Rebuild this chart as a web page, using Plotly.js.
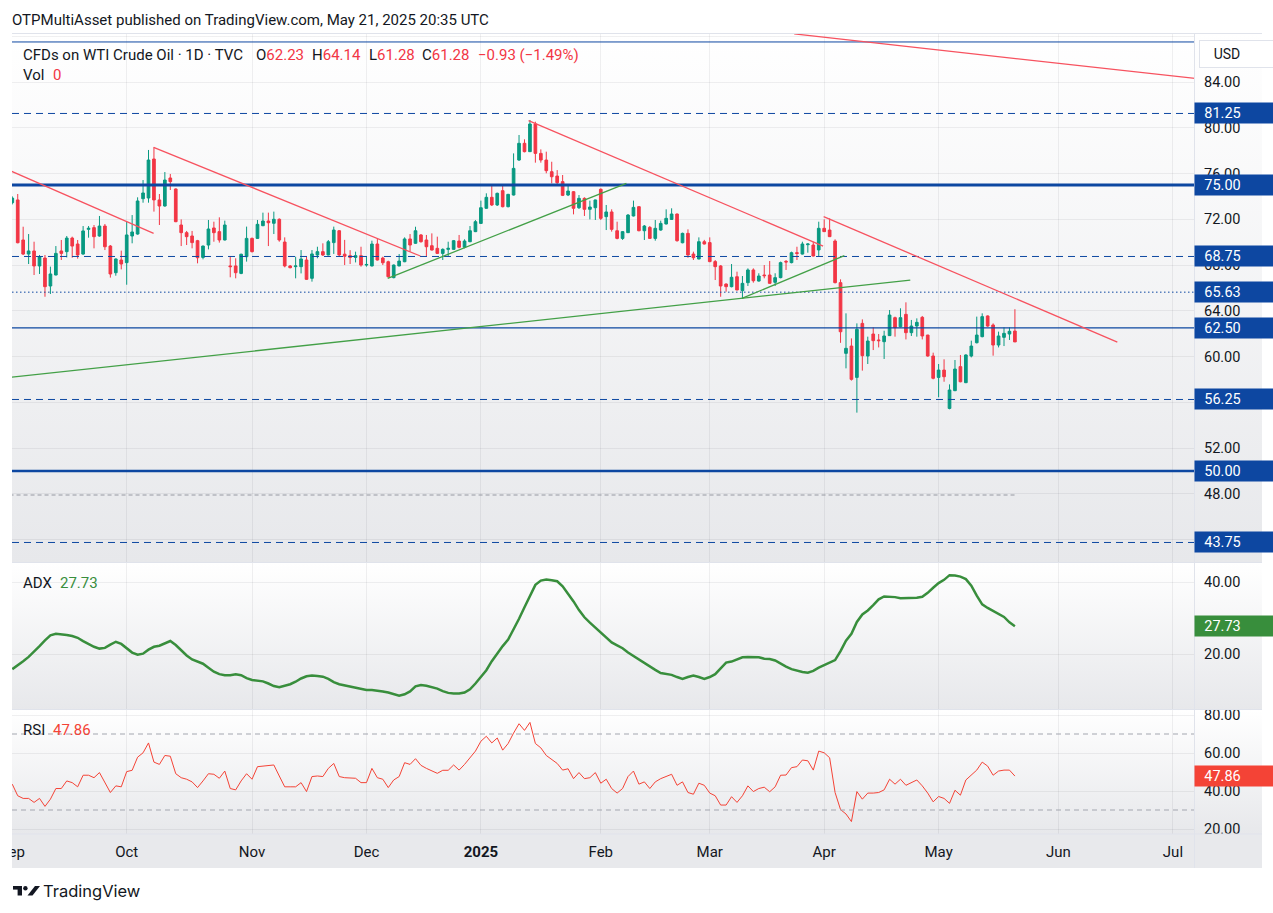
<!DOCTYPE html>
<html><head><meta charset="utf-8">
<script src="https://cdn.plot.ly/plotly-3.0.1.min.js"></script>
<style>
html,body{margin:0;padding:0;background:#fff;}
#wrap{position:relative;width:1273px;height:913px;overflow:hidden;}
.bg{position:absolute;left:12px;width:1250px;}
#chart{position:absolute;left:0;top:0;width:1273px;height:913px;}
</style></head>
<body><div id="wrap">
<div class="bg" style="top:33px;height:530px;background:linear-gradient(#ffffff,#e7e8eb)"></div>
<div class="bg" style="top:563px;height:147px;background:linear-gradient(#ffffff,#e7e8eb)"></div>
<div class="bg" style="top:710px;height:124px;background:linear-gradient(#ffffff,#e7e8eb)"></div>
<div class="bg" style="top:834px;height:34px;background:#e8e9ec"></div>
<div id="chart"></div></div>
<script>
// ---- DATA (daily bars, first bar = Sep 2 2024, last = May 21 2025) ----
const open = [
73.45,
73.69,70.19,68.96,69.23,67.92,68.61,66.17,67.13,69.23,69.17,
70.36,69.84,68.96,71.12,71.27,70.54,71.41,69.66,67.33,68.44,
68.21,70.54,70.71,73.8,73.86,77.27,73.69,73.16,75.61,74.65,
71.5,70.83,70.54,70.13,68.67,69.75,71.24,70.92,70.19,67.92,
67.92,67.27,68.73,70.33,70.33,71.44,71.85,71.65,72.0,70.01,
67.92,67.86,67.86,68.44,66.84,68.88,69.17,68.88,69.96,71.0,
68.95,68.82,68.67,68.82,68.0,67.92,69.84,68.61,68.29,66.9,
67.92,68.29,70.28,69.9,70.63,70.19,69.69,69.46,69.02,69.37,
69.37,70.1,69.55,70.04,70.92,71.64,72.96,73.92,73.25,74.5,
73.1,74.12,77.18,78.64,77.91,80.33,77.76,77.18,76.16,75.78,
75.29,74.12,74.41,73.01,73.83,72.87,73.01,74.62,72.23,72.64,
71.0,70.33,70.83,72.29,73.1,71.0,71.29,70.33,71.06,71.59,
71.99,72.46,69.95,70.77,68.96,68.53,70.04,69.96,68.3,67.92,
66.34,66.11,66.98,65.76,66.46,67.57,66.6,67.13,67.13,66.49,
66.9,68.32,68.21,69.08,68.96,69.78,69.75,69.32,71.21,71.06,
70.1,66.46,60.28,60.92,58.18,62.9,60.05,61.97,61.45,61.3,
61.83,63.4,62.61,63.69,62.09,62.67,63.43,61.88,60.05,58.18,
58.82,55.47,57.02,59.12,57.72,60.05,61.21,61.74,63.55,62.76,
61.01,61.68,61.97,62.23];
const high = [
74.0,
74.21,71.35,70.71,70.04,68.88,68.88,67.86,69.66,70.19,70.54,
70.48,70.19,71.41,71.41,71.5,72.29,71.59,69.75,68.58,69.26,
71.79,72.37,73.92,75.43,78.06,78.29,74.21,76.13,75.96,74.7,
71.99,70.98,70.98,70.2,69.7,71.94,71.79,72.17,71.88,68.79,
68.59,69.0,71.36,70.4,71.94,72.58,72.58,72.67,72.08,70.42,
68.0,68.73,69.31,68.73,69.31,69.6,69.9,70.19,71.36,71.06,
70.2,69.3,69.17,69.6,68.7,70.13,70.33,68.73,68.38,68.05,
68.96,70.42,70.71,71.35,70.71,70.63,70.77,70.48,69.46,70.04,
70.19,70.63,70.25,71.41,71.93,73.63,74.27,74.91,74.33,75.08,
74.22,77.76,79.37,78.99,80.68,80.53,78.11,77.91,77.03,76.3,
75.87,75.08,74.47,74.12,73.92,73.63,73.72,74.7,73.25,72.87,
71.79,70.96,72.46,73.63,73.15,71.5,71.41,71.94,71.88,72.87,
72.96,72.5,70.83,71.12,69.17,70.42,70.2,70.42,68.44,68.0,
66.4,68.09,67.42,67.04,67.71,67.71,67.28,68.0,68.35,67.28,
68.3,68.44,69.17,69.6,70.04,69.9,70.04,71.79,71.99,72.08,
70.25,66.75,63.78,61.59,62.9,63.25,61.74,62.55,61.97,62.26,
64.07,63.49,64.22,64.74,63.2,63.34,63.55,61.9,60.34,59.35,
59.76,57.57,59.7,60.14,60.2,61.39,63.49,63.78,63.6,62.9,
62.18,62.55,62.55,64.14];
const low = [
73.3,
69.9,68.88,68.09,67.13,67.22,65.23,65.47,67.1,68.44,68.67,
68.64,68.56,68.9,70.39,69.46,70.48,69.31,66.9,67.07,67.62,
66.28,69.9,70.65,73.45,73.45,72.67,71.5,73.1,74.56,71.75,
69.66,69.75,69.46,68.15,68.5,69.37,70.04,69.96,70.15,66.93,
66.84,67.2,68.3,69.1,70.3,71.4,69.66,70.71,70.04,67.8,
67.71,66.84,67.27,66.7,66.55,68.59,68.79,68.85,68.97,68.73,
68.0,68.09,68.23,67.86,67.86,67.88,68.4,68.0,66.9,66.84,
67.9,68.25,69.17,69.85,69.96,68.79,69.28,68.96,68.44,68.73,
69.33,69.46,69.46,70.0,70.88,71.59,72.92,73.16,73.16,73.04,
73.04,74.08,77.1,77.85,77.88,76.95,76.95,76.02,75.14,75.08,
74.03,74.03,72.43,72.9,72.29,71.99,71.94,71.94,71.06,70.92,
70.25,70.2,70.8,72.25,70.95,70.19,70.3,70.13,71.0,71.55,
71.94,70.04,69.9,68.64,68.44,68.5,69.8,68.25,66.69,65.23,
65.67,66.05,65.8,65.09,66.17,66.46,66.55,66.84,66.38,66.17,
66.84,67.57,68.15,68.44,68.92,69.08,68.75,68.79,70.9,70.45,
66.4,61.2,58.97,57.9,55.1,58.77,59.35,60.57,60.8,59.79,
61.8,61.74,62.55,61.5,61.8,61.74,61.5,59.99,58.01,56.44,
57.8,55.39,56.98,57.75,57.68,59.93,61.15,61.68,62.6,60.08,
60.8,60.92,61.45,61.28];
const close = [
73.85,
69.95,68.96,69.23,67.92,68.70,66.11,67.22,69.02,69.02,70.36,
69.66,68.88,70.98,71.21,70.48,71.41,69.6,67.22,68.53,68.09,
70.63,70.89,73.6,74.3,77.18,73.69,73.16,75.43,75.29,71.79,
70.83,70.48,69.96,68.64,69.66,71.15,70.83,70.19,71.5,67.86,
67.33,68.94,70.33,69.17,71.56,71.85,71.7,72.0,70.19,67.92,
67.77,67.92,68.53,66.75,68.97,69.17,68.88,70.04,71.06,68.88,
68.77,68.67,68.82,68.0,68.05,69.84,68.44,68.2,66.98,68.0,
68.35,70.28,69.75,71.0,70.04,69.6,69.31,69.02,69.37,69.46,
70.13,69.55,70.1,71.0,71.79,73.01,73.92,73.25,74.27,73.1,
74.18,76.45,78.64,77.91,80.33,77.76,77.18,76.25,75.72,75.2,
74.09,74.47,72.96,73.83,72.87,73.07,73.69,72.08,72.64,71.12,
70.33,70.92,72.37,73.04,71.0,71.41,70.33,71.21,71.64,72.08,
72.46,70.13,70.77,68.88,68.64,70.04,69.84,68.3,67.86,66.17,
66.11,66.93,65.82,66.4,67.57,66.63,67.04,67.07,66.4,66.9,
68.21,68.27,69.08,69.02,69.84,69.84,68.79,71.21,70.92,70.48,
66.46,62.17,60.72,58.01,62.38,60.08,61.36,61.39,61.39,61.8,
63.63,62.53,63.4,62.09,62.67,62.99,61.8,60.05,58.1,58.82,
58.24,57.08,58.91,57.8,60.14,60.92,61.88,63.49,62.67,61.01,
61.8,62.03,62.21,61.28];
const adx = [
15.8,
16.8,18.0,19.2,20.6,22.2,23.8,25.2,25.6,25.5,25.3,
25.0,24.5,23.6,22.7,22.0,21.5,21.7,22.6,23.4,22.8,
21.6,20.4,19.8,20.1,21.2,22.0,22.3,23.0,23.6,22.5,
21.1,19.6,18.5,17.9,17.3,16.2,15.1,14.4,14.1,14.1,
14.4,14.1,13.3,12.8,12.7,12.4,11.8,11.1,10.8,11.2,
11.6,12.3,13.2,13.8,14.0,13.9,13.7,13.1,12.2,11.6,
11.3,11.1,10.7,10.3,10.0,10.0,9.9,9.6,9.3,8.8,
8.4,8.8,9.6,11.0,11.4,11.2,10.9,10.4,9.7,9.2,
9.0,9.0,9.3,10.2,11.8,13.8,15.5,18.0,20.2,22.2,
24.0,26.8,29.8,33.0,36.3,39.2,40.4,40.7,40.5,40.2,
38.8,36.8,34.6,32.2,30.2,28.7,27.3,25.9,24.6,23.2,
22.4,21.6,20.4,19.4,18.5,17.4,16.5,15.6,14.7,14.4,
14.2,13.6,13.1,13.6,14.0,13.6,13.1,13.6,14.4,16.0,
17.6,17.9,18.6,19.1,19.2,19.2,19.1,18.7,18.6,18.2,
17.3,16.5,15.8,15.3,15.0,14.8,15.3,16.2,16.9,17.5,
18.3,20.8,23.7,25.6,28.9,31.0,32.1,33.6,35.2,36.0,
36.0,35.8,35.5,35.5,35.5,35.6,35.9,37.0,38.4,39.7,
40.6,41.9,41.8,41.5,40.8,39.0,36.2,33.8,32.8,32.0,
31.2,30.3,28.8,27.73];
const rsi = [
43.6,
37.5,36.1,36.1,34.0,36.1,31.9,35.7,41.3,41.3,45.3,
44.4,42.2,48.3,48.3,47.0,49.7,44.8,39.2,42.7,42.2,
50.2,50.9,57.8,60.1,65.3,55.2,54.0,58.7,58.3,49.1,
47.0,46.2,44.8,41.8,45.3,49.1,48.8,46.7,50.5,41.3,
40.6,45.3,49.1,46.2,52.8,53.1,53.1,53.7,47.9,42.2,
42.2,42.2,44.4,39.7,47.6,47.9,47.6,51.9,54.5,47.6,
47.0,46.7,46.7,44.4,44.4,51.9,47.0,46.2,41.8,45.8,
47.6,54.9,54.0,57.0,53.5,51.9,50.5,49.3,50.9,50.9,
53.7,51.0,54.0,57.5,61.0,66.2,68.8,65.3,67.9,61.5,
65.0,70.5,75.4,71.9,76.1,65.0,62.7,58.7,56.6,54.5,
51.0,51.7,46.5,49.7,46.5,47.0,49.7,44.1,46.2,41.3,
38.9,41.3,47.6,50.5,43.6,44.8,41.3,44.8,46.5,47.6,
48.8,43.0,44.8,39.2,38.3,44.1,43.0,38.9,37.5,32.6,
32.6,37.0,34.0,37.5,42.7,39.7,41.3,42.0,39.6,42.2,
48.3,48.4,52.3,52.8,56.3,55.9,51.0,61.0,60.1,57.5,
39.2,30.2,27.9,23.9,39.7,35.7,38.9,38.9,39.2,40.6,
46.2,43.6,46.2,43.0,44.4,45.8,42.7,38.9,34.3,37.1,
36.1,33.5,40.4,37.8,45.8,48.3,51.0,55.2,53.1,48.3,
50.5,51.0,51.0,47.86];
// month start bar indices and labels
const monthIdx = [-1,20,43,64,85,107,127,148,169,191,212];
const monthLabels = ['Sep','Oct','Nov','Dec','<b>2025</b>','Feb','Mar','Apr','May','Jun','Jul'];
// horizontal levels drawn on the chart
const levels = [87.5,81.25,75,68.75,65.63,62.5,56.25,50,43.75];
const labelledLevels = [81.25,75,68.75,65.63,62.5,56.25,50,43.75];
const grayLevel = 47.9;
// trend lines [x0, y0, x1, y1] in bar index / price
const redTrends = [[-1.5,76.27,24.94,70.77],[24.94,78.29,73.9,68.79],[93.75,80.62,147.8,69.66],[147.9,72.23,201.8,61.27],[142.5,88.2,216.1,84.31]];
const greenTrends = [[67.9,66.84,111.7,75.14],[-1.5,58.18,163.8,66.68],[132.9,65.09,151.7,68.82]];
const priceTicks = [44,48,52,56,60,64,68,72,76,80,84,88];
const hiddenPriceTicks = [44,56,88];

// ---- STYLE ----
const FONT = 'Roboto, Arial, sans-serif';
const INK = '#131722', RED = '#f23645', TEAL = '#089981', NAVY = '#0d47a1';
const GRID = 'rgba(42,46,57,0.07)', SEP = '#e0e3eb';
const Lpx = 12, Rpx = 1195, Tpx = 33, Bpx = 834;
const px = x => (x - Lpx) / (Rpx - Lpx);
const py = y => (Bpx - y) / (Bpx - Tpx);

const xs = open.map((_, k) => k - 1);
const last = xs.length - 1;

const traces = [
  {type:'candlestick', x:xs, open, high, low, close, xaxis:'x', yaxis:'y',
   increasing:{line:{color:TEAL,width:1}, fillcolor:TEAL},
   decreasing:{line:{color:RED,width:1}, fillcolor:RED},
   whiskerwidth:0, hoverinfo:'skip', showlegend:false},
  {type:'scatter', mode:'lines', x:xs, y:adx, xaxis:'x', yaxis:'y2',
   line:{color:'#388e3c', width:2.5}, hoverinfo:'skip', showlegend:false},
  {type:'scatter', mode:'lines', x:xs, y:rsi, xaxis:'x', yaxis:'y3',
   line:{color:'#f44336', width:1}, hoverinfo:'skip', showlegend:false}
];

const levelStyle = {87.5:{w:1,d:'solid'},81.25:{w:1,d:'7px,5px'},75:{w:3,d:'solid'},68.75:{w:1,d:'7px,5px'},
  65.63:{w:1,d:'1.5px,2.5px'},62.5:{w:1.2,d:'solid'},56.25:{w:1,d:'7px,5px'},50:{w:2.5,d:'solid'},43.75:{w:1,d:'7px,5px'}};

const shapes = [];
levels.forEach(v => shapes.push({type:'line', xref:'paper', yref:'y', x0:0, x1:1, y0:v, y1:v,
  line:{color:NAVY, width:levelStyle[v].w, dash:levelStyle[v].d}}));
shapes.push({type:'line', xref:'x', yref:'y', x0:-1.5, x1:xs[last], y0:grayLevel, y1:grayLevel,
  line:{color:'#9598a1', width:1, dash:'4px,3px'}});
redTrends.forEach(t => shapes.push({type:'line', xref:'x', yref:'y', x0:t[0], y0:t[1], x1:t[2], y1:t[3],
  line:{color:'#f7525f', width:1.3}}));
greenTrends.forEach(t => shapes.push({type:'line', xref:'x', yref:'y', x0:t[0], y0:t[1], x1:t[2], y1:t[3],
  line:{color:'#43a047', width:1.3}}));
[70,30].forEach(v => shapes.push({type:'line', xref:'paper', yref:'y3', x0:0, x1:1, y0:v, y1:v,
  line:{color:'#a3a6af', width:1, dash:'5px,4px'}}));
// pane separators and borders
const xEnd = px(1262);
[562.5, 709.5, 33.5, 834].forEach(y => shapes.push({type:'line', xref:'paper', yref:'paper', x0:0, x1:xEnd, y0:py(y), y1:py(y), line:{color:SEP, width:1}}));
shapes.push({type:'line', xref:'paper', yref:'paper', x0:px(1194.5), x1:px(1194.5), y0:py(868), y1:py(33), line:{color:SEP, width:1}});
// cover the cut-off part of the first month label
shapes.push({type:'rect', xref:'paper', yref:'paper', x0:px(-5), x1:px(11.8), y0:py(872), y1:py(836), fillcolor:'#ffffff', line:{width:0}, layer:'above'});
// TradingView logo
shapes.push({type:'rect', xref:'paper', yref:'paper', x0:px(13), x1:px(22), y0:py(889.6), y1:py(886), fillcolor:INK, line:{width:0}});
shapes.push({type:'rect', xref:'paper', yref:'paper', x0:px(17.6), x1:px(22), y0:py(895.5), y1:py(886), fillcolor:INK, line:{width:0}});
shapes.push({type:'circle', xref:'paper', yref:'paper', x0:px(23.2), x1:px(27.6), y0:py(890.4), y1:py(886), fillcolor:INK, line:{width:0}});
shapes.push({type:'path', xref:'paper', yref:'paper', fillcolor:INK, line:{width:0},
  path:`M ${px(27.5)},${py(895.5)} L ${px(32.5)},${py(895.5)} L ${px(40)},${py(886)} L ${px(35)},${py(886)} Z`});

function txt(x, y, text, size, color, extra) {
  return Object.assign({xref:'paper', yref:'paper', x:px(x), y:py(y), text, showarrow:false,
    xanchor:'left', yanchor:'middle', font:{size, color, family:FONT}, borderpad:0}, extra || {});
}
const r = s => `<span style="color:${RED}">${s}</span>`;
const chg = close[last] - close[last-1];
const pct = chg / close[last-1] * 100;
const minus = v => (v < 0 ? '\u2212' : '+') + Math.abs(v).toFixed(2);

const annotations = [
  txt(11, 20, 'OTPMultiAsset published on TradingView.com, May 21, 2025 20:35 UTC', 15, INK),
  txt(22, 55, 'CFDs on WTI Crude Oil · 1D · TVC', 15, INK),
  txt(255, 55, 'O' + r(open[last].toFixed(2)), 15, INK),
  txt(311, 55, 'H' + r(high[last].toFixed(2)), 15, INK),
  txt(368, 55, 'L' + r(low[last].toFixed(2)), 15, INK),
  txt(421, 55, 'C' + r(close[last].toFixed(2)), 15, INK),
  txt(477, 55, r(minus(chg) + ' (' + minus(pct) + '%)'), 15, INK),
  txt(22, 75, 'Vol', 15, INK),
  txt(52, 75, '0', 15, RED),
  txt(22, 583, 'ADX', 15, INK),
  txt(59, 583, adx[last].toFixed(2), 15, '#388e3c'),
  txt(22, 730, 'RSI', 15, INK),
  txt(52, 730, rsi[last].toFixed(2), 15, '#f44336'),
  txt(42, 891, 'TradingView', 16.5, INK, {font:{size:16.5, color:INK, family:'Inter, Roboto, sans-serif'}}),
  {xref:'paper', yref:'paper', x:px(1227), y:py(54), text:'USD', showarrow:false, xanchor:'center', yanchor:'middle',
   font:{size:14, color:INK, family:FONT}, bgcolor:'#ffffff', bordercolor:'#e0e3eb', borderwidth:1, width:52, height:24, borderpad:1}
];
function box(v, yref, color) {
  return {xref:'paper', yref, x:1, y:v, xshift:-1, text:v.toFixed(2), showarrow:false, xanchor:'left', yanchor:'middle',
    font:{size:14.5, color:'#ffffff', family:FONT}, bgcolor:color, width:51, height:16, borderpad:2, align:'center'};
}
labelledLevels.forEach(v => annotations.push(box(v, 'y', NAVY)));
annotations.push(box(adx[last], 'y2', '#388e3c'));
annotations.push(box(rsi[last], 'y3', '#f44336'));

const yCommon = {side:'right', showgrid:true, gridcolor:GRID, gridwidth:1, zeroline:false, showline:false, ticks:'',
  tickfont:{size:14.5, color:INK, family:FONT}, fixedrange:true, ticklabelstandoff:8, tickmode:'array', anchor:'x'};

const layout = {
  width:1273, height:913, margin:{l:Lpx, r:1273-Rpx, t:Tpx, b:913-Bpx, pad:0},
  paper_bgcolor:'rgba(0,0,0,0)', plot_bgcolor:'rgba(0,0,0,0)',
  font:{family:FONT, color:INK}, showlegend:false, hovermode:false, dragmode:false,
  xaxis:{domain:[0,1], anchor:'y3', range:[-1.05,216.05], tickmode:'array', tickvals:monthIdx, ticktext:monthLabels,
    showgrid:true, gridcolor:GRID, gridwidth:1, zeroline:false, showline:false, ticks:'', ticklabeloverflow:'allow',
    tickfont:{size:15, color:INK, family:FONT}, rangeslider:{visible:false}, fixedrange:true, ticklabelstandoff:7},
  yaxis:Object.assign({}, yCommon, {domain:[py(562.5),1], range:[42.0,88.283], tickvals:priceTicks,
    ticktext:priceTicks.map(v => hiddenPriceTicks.includes(v) ? '' : v.toFixed(2))}),
  yaxis2:Object.assign({}, yCommon, {domain:[py(709.5),py(562.5)], range:[4.583,45.417], tickvals:[20,40], ticktext:['20.00','40.00']}),
  yaxis3:Object.assign({}, yCommon, {domain:[0,py(709.5)], range:[17.368,82.895], tickvals:[20,40,60,80], ticktext:['20.00','40.00','60.00','80.00']}),
  shapes, annotations
};
Plotly.newPlot('chart', traces, layout, {staticPlot:true, displayModeBar:false});
</script>
</body></html>
